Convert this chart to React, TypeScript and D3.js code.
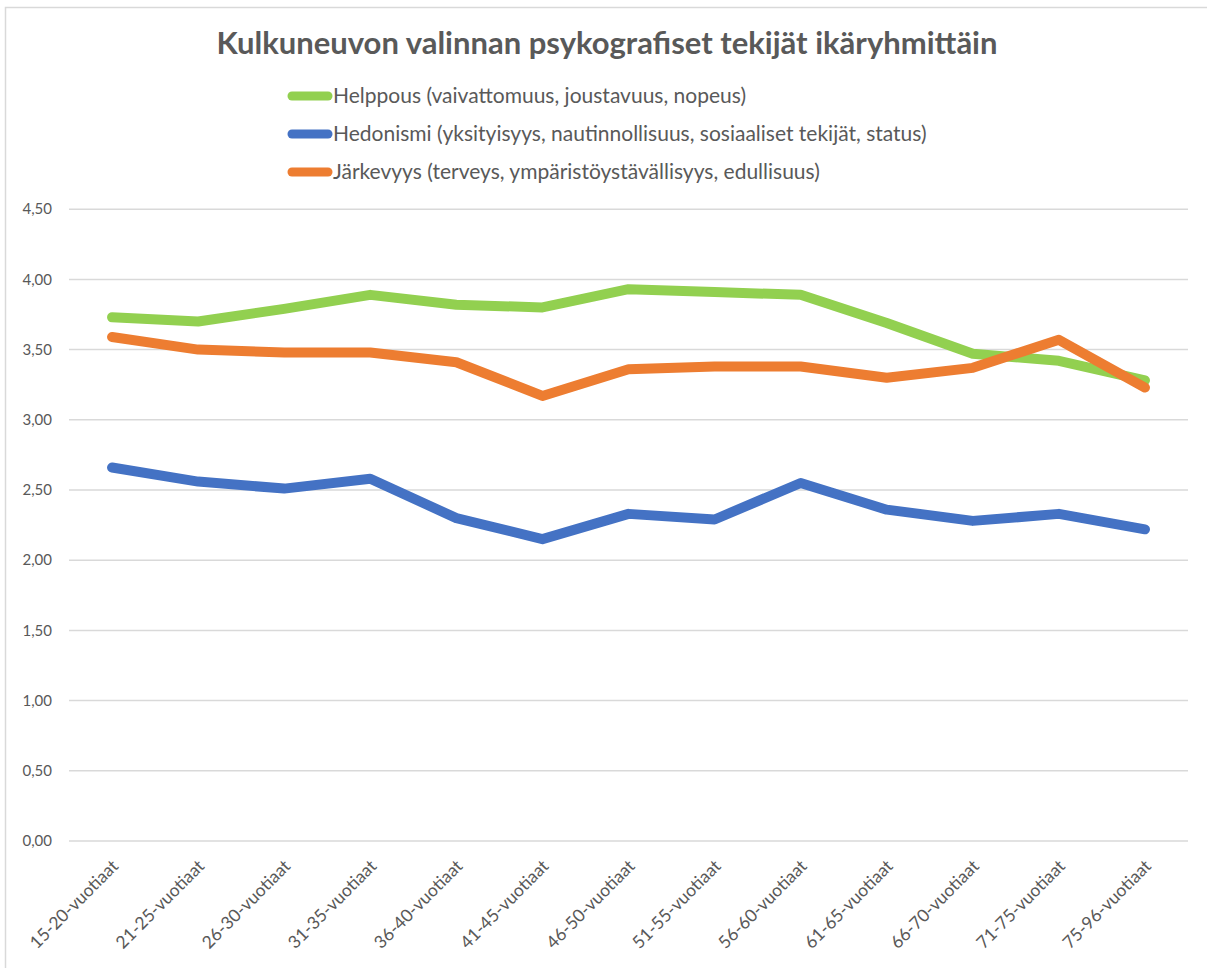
import React from 'react';
import * as d3 from 'd3';

const WIDTH = 1207;
const HEIGHT = 968;
const PLOT = { left: 69, right: 1188, top: 209.2, bottom: 841 };
const FONT = 'Lato, "Open Sans", sans-serif';
const TEXT = '#595959';
const GRID = '#d9d9d9';

const title = 'Kulkuneuvon valinnan psykografiset tekijät ikäryhmittäin';

const categories = [
    '15-20-vuotiaat', '21-25-vuotiaat', '26-30-vuotiaat', '31-35-vuotiaat',
    '36-40-vuotiaat', '41-45-vuotiaat', '46-50-vuotiaat', '51-55-vuotiaat',
    '56-60-vuotiaat', '61-65-vuotiaat', '66-70-vuotiaat', '71-75-vuotiaat',
    '75-96-vuotiaat',
];

const helppous = [3.73, 3.70, 3.79, 3.89, 3.82, 3.80, 3.93, 3.91, 3.89, 3.69, 3.47, 3.42, 3.28];
const hedonismi = [2.66, 2.56, 2.51, 2.58, 2.30, 2.15, 2.33, 2.29, 2.55, 2.36, 2.28, 2.33, 2.22];
const jarkevyys = [3.59, 3.50, 3.48, 3.48, 3.41, 3.17, 3.36, 3.38, 3.38, 3.30, 3.37, 3.57, 3.23];

const seriesNames = [
    'Helppous (vaivattomuus, joustavuus, nopeus)',
    'Hedonismi (yksityisyys, nautinnollisuus, sosiaaliset tekijät, status)',
    'Järkevyys (terveys, ympäristöystävällisyys, edullisuus)',
];
const seriesColors = ['#92d050', '#4472c4', '#ed7d31'];

const yTicks = [0, 0.5, 1, 1.5, 2, 2.5, 3, 3.5, 4, 4.5];

const series = [helppous, hedonismi, jarkevyys].map((values, i) => ({
    name: seriesNames[i],
    color: seriesColors[i],
    values,
}));

const fiLocale = d3.formatLocale({ decimal: ',', thousands: ' ', grouping: [3], currency: ['', ' €'] });
const fmt = fiLocale.format('.2f');

const App = () => {
    const xScale = d3.scalePoint<string>()
        .domain(categories)
        .range([PLOT.left, PLOT.right])
        .padding(0.5);

    const yScale = d3.scaleLinear()
        .domain([0, 4.5])
        .range([PLOT.bottom, PLOT.top]);

    const line = d3.line<number>()
        .x((_, i) => xScale(categories[i]) as number)
        .y(d => yScale(d));

    return (
        <div style={{ position: 'absolute', left: 0, top: 0 }}>
            <svg width={WIDTH} height={HEIGHT} style={{ display: 'block', fontFamily: FONT }}>
                <rect x={0} y={0} width={WIDTH} height={HEIGHT} fill="#fff" />
                <rect x={5.5} y={7.5} width={WIDTH + 20} height={HEIGHT + 20} fill="none" stroke={GRID} strokeWidth={1.5} />

                <text x={607} y={54} textAnchor="middle" fontSize={31} fontWeight="bold" fill={TEXT}>
                    {title}
                </text>

                {/* legend */}
                {series.map((s, i) => (
                    <g key={s.name} transform={`translate(288, ${96 + i * 38})`}>
                        <line x1={4} x2={40} y1={0} y2={0} stroke={s.color} strokeWidth={9} strokeLinecap="round" />
                        <text x={45} y={0} dy="0.35em" fontSize={21} fill={TEXT}>{s.name}</text>
                    </g>
                ))}

                {/* gridlines + y labels */}
                {yTicks.map(t => (
                    <g key={t}>
                        <line x1={PLOT.left} x2={PLOT.right} y1={yScale(t)} y2={yScale(t)} stroke={GRID} strokeWidth={1.5} />
                        <text x={52} y={yScale(t)} dy="0.35em" textAnchor="end" fontSize={15} fill={TEXT}>{fmt(t)}</text>
                    </g>
                ))}

                {/* x labels */}
                {categories.map(c => (
                    <text key={c} transform={`translate(${(xScale(c) as number) + 3}, ${PLOT.bottom + 22}) rotate(-45)`}
                        textAnchor="end" dy="0.35em" fontSize={17.5} fill={TEXT}>
                        {c}
                    </text>
                ))}

                {series.map(s => (
                    <path key={s.name} d={line(s.values) ?? ''} fill="none" stroke={s.color}
                        strokeWidth={10} strokeLinecap="round" strokeLinejoin="round" />
                ))}
            </svg>
        </div>
    );
};

export default App;
